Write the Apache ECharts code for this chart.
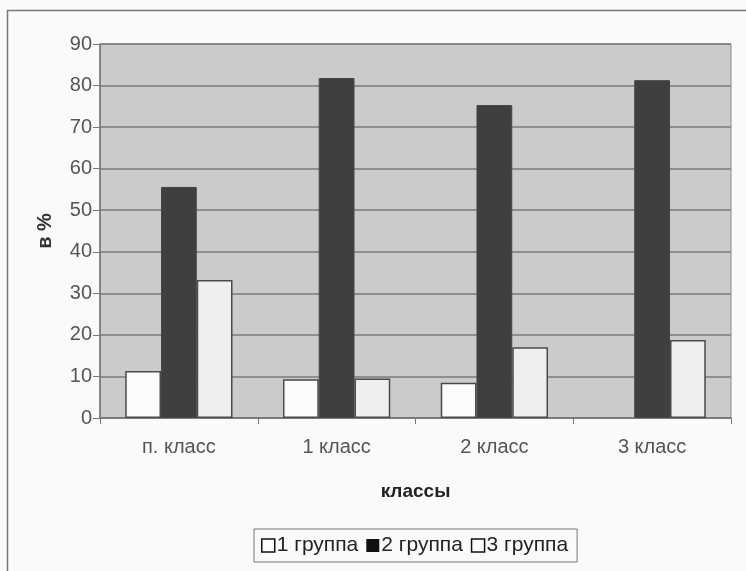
<!DOCTYPE html>
<html><head><meta charset="utf-8">
<script src="https://cdn.jsdelivr.net/npm/echarts@6/dist/echarts.min.js"></script>
<style>html,body{margin:0;padding:0;background:#fafafa}#c{width:746px;height:571px}</style>
</head><body><div id="c"></div>
<script>
const categories = ['п. класс', '1 класс', '2 класс', '3 класс'];
const group1 = [11.3, 9.3, 8.5, 0];
const group2 = [55.6, 81.8, 75.3, 81.3];
const group3 = [33.2, 9.5, 17.0, 18.8];
const seriesNames = ['1 группа', '2 группа', '3 группа'];

const chart = echarts.init(document.getElementById('c'));
const font = '"Liberation Sans", Arial, sans-serif';
function withBorder(arr, color) {
  return arr.map(v => ({value: v, itemStyle: {color: color, borderColor: '#4a4a4a', borderWidth: v > 0 ? 1.5 : 0}}));
}
chart.setOption({
  backgroundColor: '#fafafa',
  animation: false,
  textStyle: {fontFamily: font},
  graphic: [
    {type: 'rect', shape: {x: 7.5, y: 10.5, width: 760, height: 600}, style: {fill: 'none', stroke: '#777', lineWidth: 1.5}, z: -1}
  ],
  grid: {left: 100, right: 15, top: 44, bottom: 153, show: true, backgroundColor: '#cbcbcb', borderColor: '#888', borderWidth: 1},
  legend: {
    top: 529, left: 254, itemGap: 8, itemWidth: 13, itemHeight: 13,
    padding: [6, 9, 6, 7], borderColor: '#777', borderWidth: 1, backgroundColor: '#fafafa',
    textStyle: {fontSize: 21, color: '#222', fontFamily: font, padding: [0, 0, 0, -3]},
    data: [
      {name: seriesNames[0], icon: 'rect', itemStyle: {color: '#fff', borderColor: '#111', borderWidth: 1.5}},
      {name: seriesNames[1], icon: 'rect', itemStyle: {color: '#111', borderWidth: 0}},
      {name: seriesNames[2], icon: 'rect', itemStyle: {color: '#fff', borderColor: '#111', borderWidth: 1.5}}
    ]
  },
  xAxis: {
    type: 'category', data: categories,
    name: 'классы', nameLocation: 'middle', nameGap: 64,
    nameTextStyle: {fontSize: 19, fontWeight: 'bold', color: '#222', fontFamily: font},
    axisLine: {lineStyle: {color: '#777', width: 1.5}},
    axisTick: {show: true, length: 6, lineStyle: {color: '#777'}},
    axisLabel: {fontSize: 20, color: '#555', margin: 19, fontFamily: font}
  },
  yAxis: {
    type: 'value', min: 0, max: 90, interval: 10,
    name: 'в %', nameLocation: 'middle', nameGap: 45,
    nameTextStyle: {fontSize: 20, fontWeight: 'bold', color: '#333', fontFamily: font},
    axisLine: {show: true, lineStyle: {color: '#777', width: 1.5}},
    axisTick: {show: true, length: 7, lineStyle: {color: '#777'}},
    axisLabel: {fontSize: 20, color: '#555', margin: 8, fontFamily: font},
    splitLine: {lineStyle: {color: '#7a7a7a', width: 1.5}}
  },
  series: [
    {name: seriesNames[0], type: 'bar', data: withBorder(group1, '#fbfbfb'), barGap: '0%', barCategoryGap: '32%', itemStyle: {color: '#fbfbfb'}},
    {name: seriesNames[1], type: 'bar', data: group2, itemStyle: {color: '#3f3f3f', borderColor: '#444', borderWidth: 1}},
    {name: seriesNames[2], type: 'bar', data: withBorder(group3, '#efefef'), itemStyle: {color: '#efefef'}}
  ]
});
</script></body></html>
